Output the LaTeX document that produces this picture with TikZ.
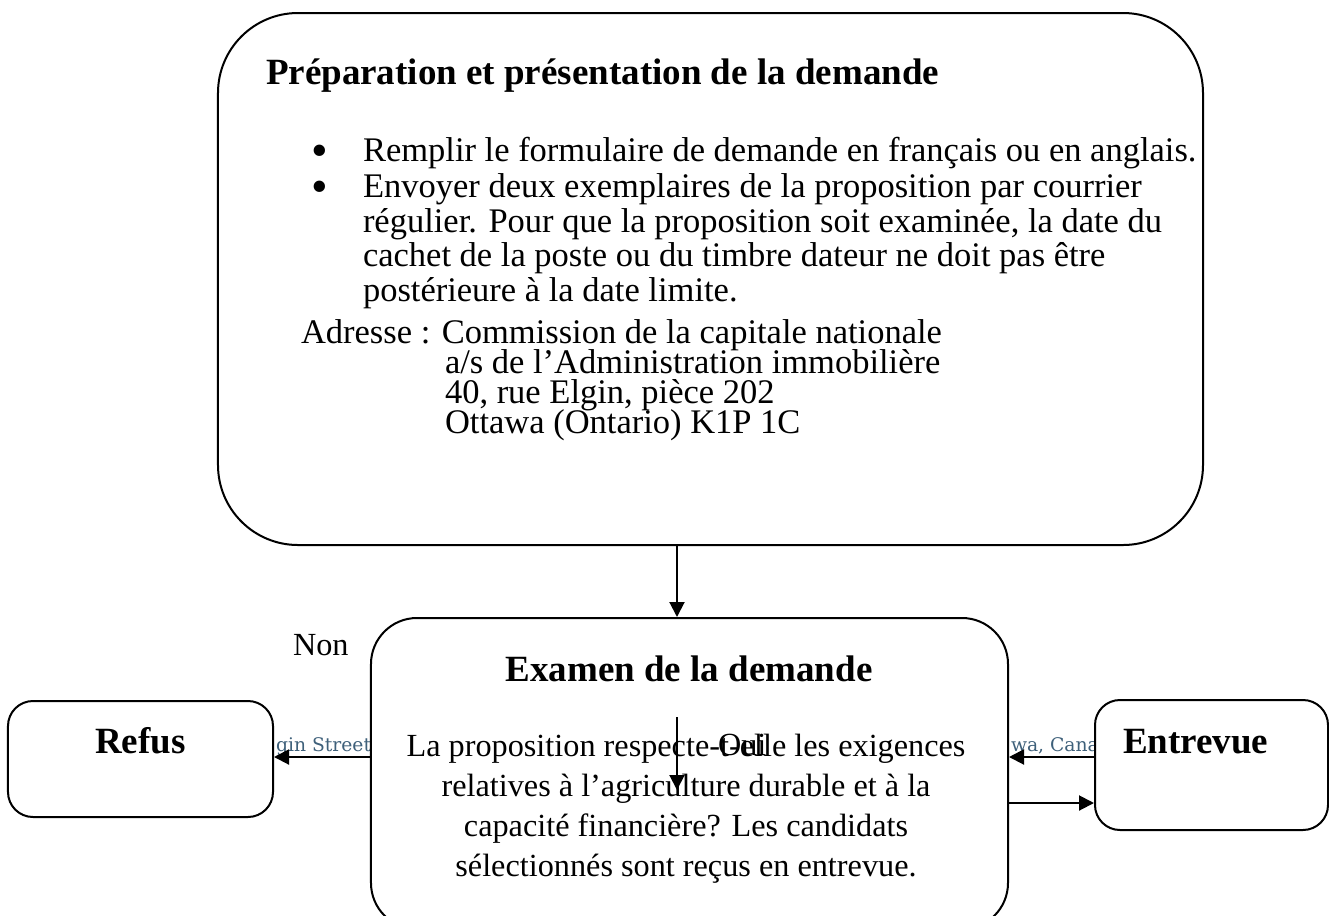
\documentclass[tikz,border=0pt]{standalone}
\usepackage{fontspec}
\setmainfont{Liberation Serif}
\newfontfamily\webfont{DejaVu Serif}
\usepackage{xcolor}
\usepackage{tikz}
\usetikzlibrary{arrows.meta,positioning}
\definecolor{linkblue}{RGB}{62,96,122}

\begin{document}
\begin{tikzpicture}
			[x=0.4pt,y=-0.4pt,line width=0.8pt,>={Triangle[length=6pt,width=6pt]},
			box/.style={draw,fill=white,rectangle,inner sep=0pt},
			title/.style={inner sep=0pt,font=\fontsize{14.8}{16}\selectfont\bfseries},
			txt/.style={anchor=base west,inner sep=0pt,font=\fontsize{13.8}{15}\selectfont},
			ctxt/.style={anchor=base,inner sep=0pt,font=\fontsize{12.9}{14}\selectfont},
			puce/.style={anchor=base,inner sep=0pt,font=\fontsize{19}{19}\selectfont},
			web/.style={anchor=base west,inner sep=0pt,text=linkblue,font=\webfont\fontsize{7.5}{8}\selectfont}]
			\useasboundingbox (0,0) rectangle (1329,915);
			\clip (0,0) rectangle (1329,915);
			\node[web] (street) at (275,751) {gin Street};
			\node[web] (canada) at (1010,751) {wa, Canad};
			\node[box,rounded corners=32pt,minimum width=394pt,minimum height=212.8pt] (prep) at (710.5,279) {};
			\node[box,rounded corners=18.4pt,minimum width=254.8pt,minimum height=124.4pt] (exam) at (689.5,773.5) {};
			\node[box,rounded corners=10pt,minimum width=106pt,minimum height=46.4pt] (refus) at (140.5,759) {};
			\node[box,rounded corners=10pt,minimum width=93.2pt,minimum height=52pt] (entrevue) at (1211.5,765) {};
			\node[title,anchor=base west] (prepTitle) at (265,84) {Préparation et présentation de la demande};
			\node[puce] (dot1) at (320,166) {\smash{\textbullet}};
			\node[txt] (p1) at (362,161) {Remplir le formulaire de demande en français ou en anglais.};
			\node[puce] (dot2) at (320,202) {\smash{\textbullet}};
			\node[txt] (p2) at (362,197) {Envoyer deux exemplaires de la proposition par courrier};
			\node[txt] (p3) at (362,232) {régulier. Pour que la proposition soit examinée, la date du};
			\node[txt] (p4) at (362,266) {cachet de la poste ou du timbre dateur ne doit pas être};
			\node[txt] (p5) at (362,301) {postérieure à la date limite.};
			\node[txt] (a1) at (300,343) {Adresse : Commission de la capitale nationale};
			\node[txt] (a2) at (444,373) {a/s de l’Administration immobilière};
			\node[txt] (a3) at (444,403) {40, rue Elgin, pièce 202};
			\node[txt] (a4) at (444,433) {Ottawa (Ontario) K1P 1C};
			\node[title,anchor=base] (examTitle) at (689,681) {Examen de la demande};
			\node[ctxt] (q1) at (686,756) {La proposition respecte-t-elle les exigences};
			\node[ctxt] (q2) at (686,796) {relatives à l’agriculture durable et à la};
			\node[ctxt] (q3) at (686,836) {capacité financière? Les candidats};
			\node[ctxt] (q4) at (686,876) {sélectionnés sont reçus en entrevue.};
			\node[title,anchor=base] (refusTitle) at (140.5,753) {Refus};
			\node[title,anchor=base west] (entrevueTitle) at (1122,753) {Entrevue};
			\node[txt,font=\fontsize{12.9}{14}\selectfont] (non) at (292,655) {Non};
			\node[txt,font=\fontsize{12.9}{14}\selectfont] (oui) at (717,755) {Oui};
			\coordinate (mid) at (677,0);
			\coordinate (inY) at (0,757);
			\coordinate (outY) at (0,803);
			\coordinate (ouiTop) at (677,717);
			\coordinate (ouiBot) at (677,790);
			\path[->]
			(prep.south -| mid) 	edge (exam.north -| mid)
			(exam.west |- inY) 	edge (refus.east |- inY)
			(entrevue.west |- inY) 	edge (exam.east |- inY)
			(exam.east |- outY) 	edge (entrevue.west |- outY)
			(ouiTop) 	edge (ouiBot);
		\end{tikzpicture}
\end{document}
